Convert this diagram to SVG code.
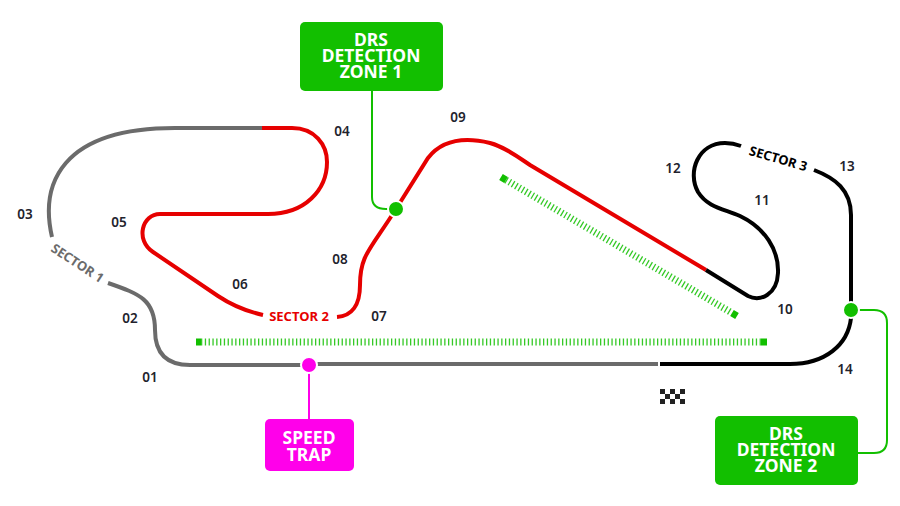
<svg xmlns="http://www.w3.org/2000/svg" width="900" height="506" viewBox="0 0 900 506">
<style>
.t{fill:none;stroke-width:4}
.g{stroke:#6b6b6b}.r{stroke:#e60000}.k{stroke:#000}
.d{fill:none;stroke:#12bf00;stroke-width:7;stroke-dasharray:1.3 2.5;stroke-opacity:.85}
.e{fill:none;stroke:#12bf00;stroke-width:7}
.c{fill:none;stroke-width:2}
text{font-family:"Noto Sans","Open Sans",sans-serif;font-weight:600}
.n{font-size:13.5px;fill:#22222c;text-anchor:middle}
.s{font-size:13px;font-weight:700;text-anchor:middle}
.b{font-size:17.5px;font-weight:700;fill:#fff;text-anchor:middle}
</style>
<rect width="900" height="506" fill="#fff"/>
<g id="connectors">
<path class="c" stroke="#12bf00" d="M372 90V197Q372 209 386 209H396"/>
<path class="c" stroke="#12bf00" d="M851 310H874Q887 310 887 323V440Q887 453 874 453H857"/>
<path class="c" stroke="#ff00ea" d="M309 365V419"/>
</g>
<g id="track">
<path class="t g" d="M658 364H316M302 365H190C165 365 155 352 155 330C155 300 140 294 108 283"/>
<path class="t g" d="M52 237C40 185 60 128 175 128H262"/>
<path class="t r" d="M262 128H292C315 128 327 145 327 162C327 190 305 214 268 214H160C142 214 135 240 153 252L218 296C230 304 245 311 263 315"/>
<path class="t r" d="M337 317C352 316 360 305 360 285C360 255 370 250 396 209L428 158C442 140 465 137 490 143C505 147 518 157 530 165L706 270"/>
<path class="t k" d="M706 270L748 296C760 302 777 295 778 273C779 250 765 228 740 216C725 209 708 208 698 192C687 172 698 143 725 143Q733 143 741 146"/>
<path class="t k" d="M814 170C835 178 851 190 851 215V302"/>
<path class="t k" d="M851 318C848 345 825 364 790 364H660"/>
<path class="d" d="M201 342H761"/>
<path class="d" d="M506 180L732 313"/>
<path class="e" d="M196 342h5M761 342h6M501 177l5 3M732 313l5 3"/>
</g>
<g id="flag" fill="#222">
<path d="M660 389h5v5h-5zM670 389h5v5h-5zM680 389h5v5h-5zM665 394h5v5h-5zM675 394h5v5h-5zM660 399h5v5h-5zM670 399h5v5h-5zM680 399h5v5h-5z"/>
</g>
<g id="labels">
<text class="n" x="150" y="382">01</text>
<text class="n" x="130" y="323">02</text>
<text class="n" x="25" y="219">03</text>
<text class="n" x="342" y="136">04</text>
<text class="n" x="119" y="227">05</text>
<text class="n" x="240" y="289">06</text>
<text class="n" x="379" y="321">07</text>
<text class="n" x="340" y="264">08</text>
<text class="n" x="458" y="122">09</text>
<text class="n" x="785" y="314">10</text>
<text class="n" x="762" y="205">11</text>
<text class="n" x="673" y="173">12</text>
<text class="n" x="847" y="171">13</text>
<text class="n" x="845" y="374">14</text>
<text class="s" fill="#6b6b6b" transform="translate(75 267) rotate(33)">SECTOR 1</text>
<text class="s" fill="#e60000" x="299" y="321">SECTOR 2</text>
<text class="s" fill="#000" transform="translate(777 163) rotate(16)">SECTOR 3</text>
</g>
<g id="dot-drs1"><circle cx="396" cy="209" r="8" fill="#12bf00" stroke="#fff" stroke-width="2"/></g>
<g id="dot-drs2"><circle cx="851" cy="310" r="8" fill="#12bf00" stroke="#fff" stroke-width="2"/></g>
<g id="dot-speed"><circle cx="309" cy="365" r="8" fill="#ff00ea" stroke="#fff" stroke-width="2"/></g>
<g id="drs-zone-1">
<rect x="300" y="22" width="143" height="69" rx="5" fill="#12bf00"/>
<text class="b" x="371" y="46">DRS</text>
<text class="b" x="371" y="62">DETECTION</text>
<text class="b" x="371" y="78">ZONE 1</text>
</g>
<g id="drs-zone-2">
<rect x="715" y="416" width="143" height="69" rx="5" fill="#12bf00"/>
<text class="b" x="786" y="440">DRS</text>
<text class="b" x="786" y="456">DETECTION</text>
<text class="b" x="786" y="472">ZONE 2</text>
</g>
<g id="speed-trap">
<rect x="265" y="419" width="89" height="52" rx="5" fill="#ff00ea"/>
<text class="b" x="309" y="444">SPEED</text>
<text class="b" x="309" y="461">TRAP</text>
</g>
</svg>
